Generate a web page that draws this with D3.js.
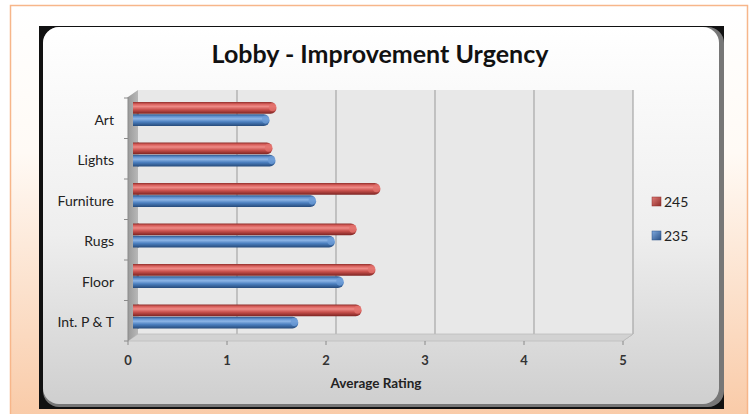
<!DOCTYPE html>
<html><head><meta charset="utf-8">
<script src="https://cdn.jsdelivr.net/npm/d3@7"></script>
<style>html,body{margin:0;padding:0;background:#fff;}svg{display:block;}</style>
</head><body>
<svg id="c" width="752" height="414"></svg>
<script>
const categories = ["Art","Lights","Furniture","Rugs","Floor","Int. P & T"];
const series = ["245","235"];
const values245 = [1.45, 1.41, 2.50, 2.26, 2.45, 2.31];
const values235 = [1.38, 1.44, 1.85, 2.04, 2.13, 1.67];
const xTicks = [0,1,2,3,4,5];
const title = "Lobby - Improvement Urgency";
const xTitle = "Average Rating";

const svg = d3.select("#c");
const defs = svg.append("defs");

function lg(id, stops, x2, y2){
  const g = defs.append("linearGradient").attr("id", id)
    .attr("x1",0).attr("y1",0).attr("x2",x2).attr("y2",y2);
  stops.forEach(s=>g.append("stop").attr("offset",s[0]).attr("stop-color",s[1]));
}
lg("outerV", [[0,"#ffffff"],[0.35,"#fffaf5"],[1,"#f9c9a5"]], 0, 1);
lg("chartBg", [[0,"#ffffff"],[0.55,"#eeeeee"],[1,"#cfcfcf"]], 0, 1);
lg("redCyl", [[0,"#8f2e2b"],[0.18,"#d9605c"],[0.38,"#ee8a86"],[0.65,"#c9514d"],[1,"#7d2422"]], 0, 1);
lg("blueCyl", [[0,"#2d5487"],[0.18,"#5f91cf"],[0.38,"#8db5e6"],[0.65,"#4b7fbf"],[1,"#264a7a"]], 0, 1);
lg("leftWall", [[0,"#9a9a9a"],[1,"#b8b8b8"]], 1, 0);
lg("legRed", [[0,"#e07b77"],[1,"#8e2c29"]], 1, 1);
lg("legBlue", [[0,"#7fa9de"],[1,"#2b5186"]], 1, 1);

// page outer frame
svg.append("rect").attr("x",10.5).attr("y",5.5).attr("width",737).attr("height",420)
  .attr("fill","url(#outerV)").attr("stroke","#f7b68a").attr("stroke-width",1.5);

// chart area: dark frame + light rounded panel
svg.append("rect").attr("x",39).attr("y",26).attr("width",685).attr("height",383).attr("fill","#111");
svg.append("rect").attr("x",43).attr("y",27).attr("width",681).attr("height",380).attr("rx",16)
  .attr("fill","#777");
svg.append("rect").attr("x",43).attr("y",27).attr("width",676).attr("height",377).attr("rx",16)
  .attr("fill","url(#chartBg)");

// scales
const xFront = d3.scaleLinear().domain([0,5]).range([128,623]);
const dx = 10, dy = -7;
const xBar = d3.scaleLinear().domain([0,5]).range([133,628]);
const y = d3.scaleBand().domain(categories).range([98,341]);
const ys = d3.scaleBand().domain(series).range([4,28]).paddingInner(0.05);
const floorY = 341;
const wallTop = 90;

// back wall
svg.append("rect").attr("x",xFront(0)+dx).attr("y",wallTop).attr("width",xFront(5)-xFront(0))
  .attr("height",floorY+dy-wallTop).attr("fill","#e8e8e8");
// gridlines on back wall + floor lines
xTicks.slice(1).forEach(t=>{
  const xb = xFront(t)+dx;
  svg.append("line").attr("x1",xb).attr("x2",xb).attr("y1",wallTop).attr("y2",floorY+dy)
    .attr("stroke","#a6a6a6").attr("stroke-width",1.2);
  svg.append("line").attr("x1",xb).attr("x2",xFront(t)).attr("y1",floorY+dy).attr("y2",floorY)
    .attr("stroke","#b0b0b0").attr("stroke-width",1);
});
// floor
svg.append("path").attr("d",`M${xFront(0)},${floorY} L${xFront(5)},${floorY} L${xFront(5)+dx},${floorY+dy} L${xFront(0)+dx},${floorY+dy}Z`)
  .attr("fill","#d2d2d2").attr("stroke","#bdbdbd").attr("stroke-width",0.8);
// left wall
svg.append("path").attr("d",`M${xFront(0)},${wallTop-dy} L${xFront(0)+dx},${wallTop} L${xFront(0)+dx},${floorY+dy} L${xFront(0)},${floorY}Z`)
  .attr("fill","url(#leftWall)");

// category axis ticks
const yEdges = categories.map(c=>y(c)).concat([floorY]);
yEdges.forEach(v=>{
  svg.append("line").attr("x1",124).attr("x2",xFront(0)).attr("y1",v).attr("y2",v)
    .attr("stroke","#8a8a8a").attr("stroke-width",1);
});
svg.append("line").attr("x1",xFront(0)).attr("x2",xFront(0)).attr("y1",wallTop-dy).attr("y2",floorY)
  .attr("stroke","#8a8a8a");
// x axis ticks
xTicks.forEach(t=>{
  svg.append("line").attr("x1",xFront(t)).attr("x2",xFront(t)).attr("y1",floorY).attr("y2",floorY+4)
    .attr("stroke","#8a8a8a");
  svg.append("text").attr("x",xFront(t)).attr("y",365).attr("text-anchor","middle")
    .attr("font-family","Lato, sans-serif").attr("font-size",13).attr("font-weight","bold")
    .attr("fill","#333").text(t);
});

// category labels
svg.selectAll("text.cat").data(categories).enter().append("text").attr("class","cat")
  .attr("x",114).attr("y",d=>y(d)+y.bandwidth()/2+6.5).attr("text-anchor","end")
  .attr("font-family","Lato, sans-serif").attr("font-size",14).attr("fill","#222").text(d=>d);

// bars
const data = [];
categories.forEach((c,i)=>{
  data.push({c, s:"245", v:values245[i]});
  data.push({c, s:"235", v:values235[i]});
});
const bh = ys.bandwidth();
const g = svg.append("g");
g.selectAll("rect.bar").data(data).enter().append("rect").attr("class","bar")
  .attr("x",xBar(0)).attr("y",d=>y(d.c)+ys(d.s))
  .attr("width",d=>xBar(d.v)-xBar(0)).attr("height",bh).attr("rx",bh/2).attr("ry",bh/2)
  .attr("fill",d=>d.s==="245"?"url(#redCyl)":"url(#blueCyl)");
// end caps highlight
g.selectAll("ellipse.cap").data(data).enter().append("ellipse").attr("class","cap")
  .attr("cx",d=>xBar(d.v)-bh*0.35).attr("cy",d=>y(d.c)+ys(d.s)+bh*0.45)
  .attr("rx",bh*0.3).attr("ry",bh*0.35)
  .attr("fill",d=>d.s==="245"?"#e2706c":"#6b9bd6").attr("opacity",0.8);
// flat left ends
g.selectAll("rect.start").data(data).enter().append("rect").attr("class","start")
  .attr("x",xBar(0)).attr("y",d=>y(d.c)+ys(d.s)).attr("width",bh/2).attr("height",bh)
  .attr("fill",d=>d.s==="245"?"url(#redCyl)":"url(#blueCyl)");

// title
svg.append("text").attr("x",380).attr("y",63).attr("text-anchor","middle")
  .attr("font-family","Lato, sans-serif").attr("font-size",25).attr("font-weight","bold")
  .attr("fill","#111").text(title);
// axis title
svg.append("text").attr("x",376).attr("y",388).attr("text-anchor","middle")
  .attr("font-family","Lato, sans-serif").attr("font-size",13.5).attr("font-weight","bold")
  .attr("fill","#222").text(xTitle);

// legend
const legY = {"245":202, "235":236};
series.forEach(s=>{
  svg.append("rect").attr("x",652).attr("y",legY[s]-5).attr("width",9).attr("height",9)
    .attr("fill",s==="245"?"url(#legRed)":"url(#legBlue)").attr("stroke",s==="245"?"#8e2c29":"#2b5186").attr("stroke-width",0.5);
  svg.append("text").attr("x",664).attr("y",legY[s]+5)
    .attr("font-family","Lato, sans-serif").attr("font-size",14).attr("fill","#222").text(s);
});
</script>
</body></html>
